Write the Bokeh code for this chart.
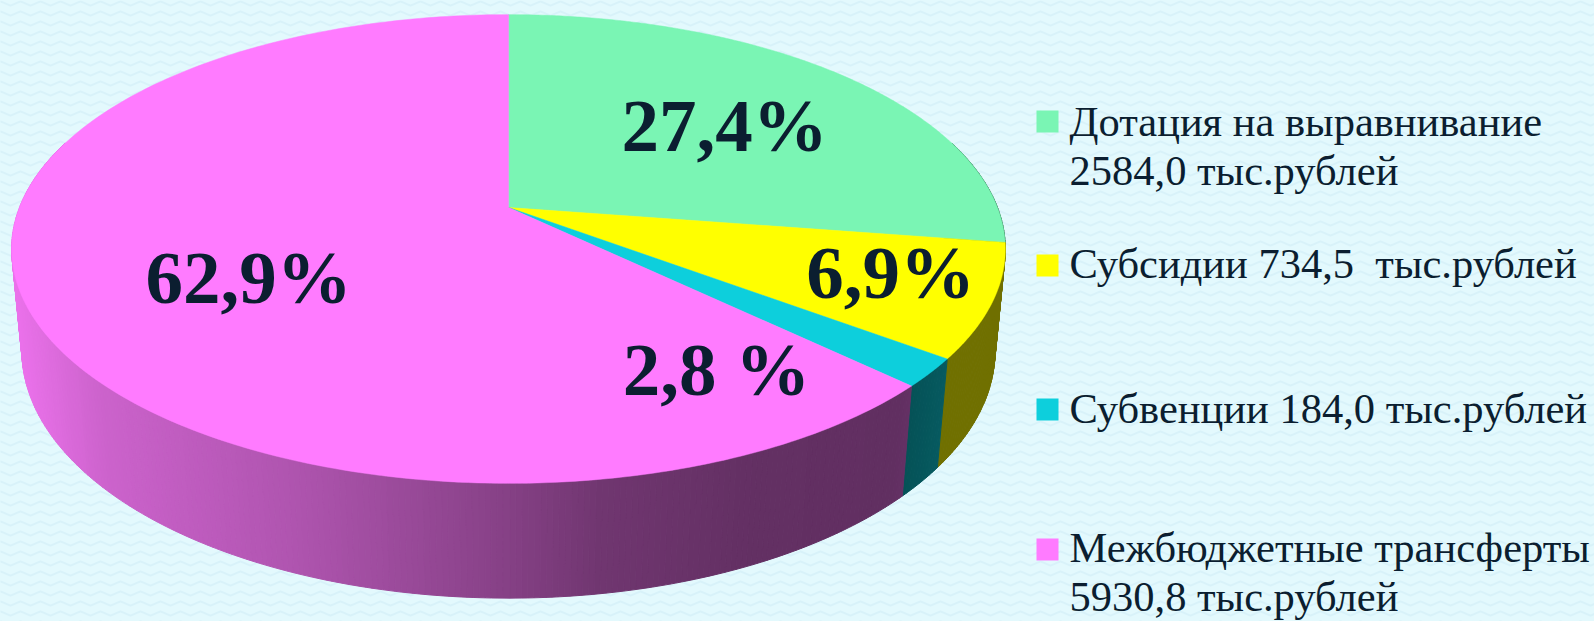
import numpy as np
from bokeh.core.properties import value
from bokeh.embed import file_html
from bokeh.models import Range1d
from bokeh.plotting import figure
from bokeh.resources import INLINE

# data
categories = ["Дотация на выравнивание", "Субсидии", "Субвенции", "Межбюджетные трансферты"]
amounts = [2584.0, 734.5, 184.0, 5930.8]
percent_labels = ["27,4%", "6,9%", "2,8 %", "62,9%"]
legend_lines = [
    ["Дотация на выравнивание", "2584,0 тыс.рублей"],
    ["Субсидии 734,5\u00a0 тыс.рублей"],
    ["Субвенции 184,0 тыс.рублей"],
    ["Межбюджетные трансферты", "5930,8 тыс.рублей"],
]
colors = [(122, 245, 180), (255, 255, 0), (13, 207, 220), (255, 123, 255)]

# style / layout
W, H = 1594, 621
BG = "#E3F9FD"
TEXT = "#0B1E30"
CX, CY, A, B, K, M, C = 508.0, 207.0, 489.0, 227.0, 0.177, 0.0205, 102.5
LABEL_PX, LEGEND_PX = 75, 42.5
label_pos = [(724, 153), (890, 300), (716, 397), (248, 305)]
swatch_y = [121, 265, 409, 549]
text_baselines = [[137, 186], [279], [424], [563, 612]]
shade_x = [15, 100, 300, 500, 600, 750, 900, 950, 1010]
shade_f = [0.92, 0.80, 0.68, 0.53, 0.44, 0.39, 0.38, 0.44, 0.44]
BASE_SHIFT = 0.38


def project(theta, z):
    """theta: clockwise from the top of the pie; z: 0 top face, 1 base."""
    X, Y = np.sin(theta), np.cos(theta)
    w = 1 + K * Y + M * z
    return CX + A * X / w, CY + (-B * Y + C * z) / w


def hexc(rgb, f=1.0):
    return "#%02x%02x%02x" % tuple(int(round(c * f)) for c in rgb)


p = figure(width=W, height=H, x_range=Range1d(0, W), y_range=Range1d(H, 0),
           output_backend="svg", toolbar_location=None, min_border=0,
           background_fill_color=BG, border_fill_color=BG, outline_line_color=None)
p.axis.visible = False
p.grid.visible = False

# wallpaper-like zigzag
period, rows = 20, 10
zx, zy = [], []
for i, y0 in enumerate(np.arange(3, H + rows, rows)):
    xs = np.arange(-period, W + period, period / 2)
    ys = y0 + np.where(np.arange(len(xs)) % 2 == 0, -2.2, 2.2)
    zx.append(xs.tolist())
    zy.append(ys.tolist())
p.multi_line(zx, zy, line_color="#D8F2F9", line_width=2.0)

# angles from the values
fractions = np.array(amounts) / sum(amounts)
edges = np.concatenate([[0], np.cumsum(fractions)]) * 2 * np.pi

# wall: strips drawn back to front
sx, sy, sc = [], [], []
strips = []
for i in range(4):
    a0, a1 = edges[i], edges[i + 1]
    n = max(2, int((a1 - a0) / np.radians(0.6)))
    th = np.linspace(a0, a1, n + 1)
    for t0, t1 in zip(th[:-1], th[1:]):
        if np.cos((t0 + t1) / 2) > 0.3:
            continue
        strips.append((np.cos((t0 + t1) / 2), t0, t1, i))
strips.sort(key=lambda s: -s[0])
for _, t0, t1, i in strips:
    tt = np.array([t0, t1])
    x0, y0 = project(tt, 0)
    x1, y1 = project(tt, 1)
    sx.append([x0[0], x0[1], x1[1], x1[0]])
    sy.append([y0[0], y0[1], y1[1], y1[0]])
    f = float(np.interp((x0[0] + x0[1]) / 2, shade_x, shade_f))
    sc.append(hexc(colors[i], f))
p.patches(sx, sy, fill_color=sc, line_color=sc, line_width=1)

# top face wedges
for i in range(4):
    th = np.linspace(edges[i], edges[i + 1], 240)
    x, y = project(th, 0)
    c = hexc(colors[i])
    p.patch(np.r_[CX, x], np.r_[CY, y], fill_color=c, line_color=c, line_width=0.5)

# percent labels
p.text([q[0] for q in label_pos], [q[1] - BASE_SHIFT * LABEL_PX for q in label_pos], text=percent_labels,
       text_font=value("Liberation Serif"), text_font_style="bold", text_font_size=f"{LABEL_PX}px",
       text_color=TEXT, text_align="center", text_baseline="alphabetic")

# legend
p.scatter([1047] * 4, swatch_y, size=22, marker="square", line_color=None,
          fill_color=[hexc(c) for c in colors])
lx, ly, lt = [], [], []
for lines, bases in zip(legend_lines, text_baselines):
    for t, b in zip(lines, bases):
        lx.append(1069)
        ly.append(b - BASE_SHIFT * LEGEND_PX)
        lt.append(t)
p.text(lx, ly, text=lt, text_font=value("Liberation Serif"), text_font_size=f"{LEGEND_PX}px",
       text_color=TEXT, text_align="left", text_baseline="alphabetic")

html = file_html(p, INLINE)
html = html.replace("<head>", "<head><style>html,body{margin:0;padding:0;overflow:hidden;background:%s}</style>" % BG, 1)
open("out.html", "w").write(html)
